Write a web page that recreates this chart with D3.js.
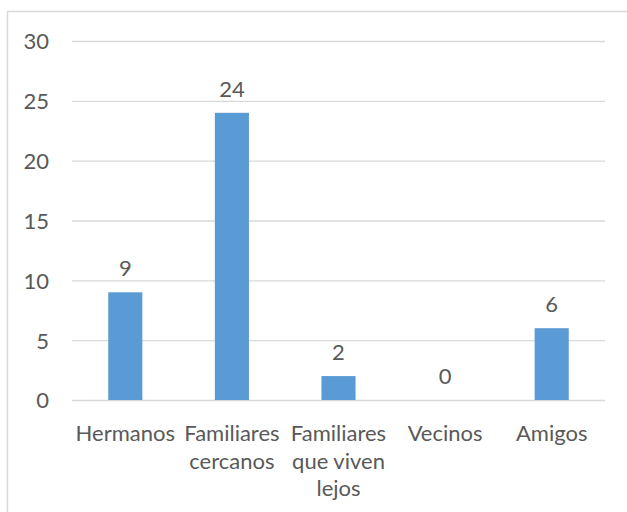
<!DOCTYPE html>
<html><head><meta charset="utf-8">
<script src="https://cdn.jsdelivr.net/npm/d3@7"></script>
<style>body{margin:0;background:#fff}svg{display:block}text{font-family:Lato,"Open Sans",sans-serif;fill:#595959}</style>
</head><body>
<script>
const categories = ["Hermanos", "Familiares\ncercanos", "Familiares\nque viven\nlejos", "Vecinos", "Amigos"];
const values = [9, 24, 2, 0, 6];
const yTicks = [0, 5, 10, 15, 20, 25, 30];

const W = 627, H = 512;
const svg = d3.select("body").append("svg").attr("width", W).attr("height", H);
svg.append("rect").attr("x", 7.5).attr("y", 11.5).attr("width", 640).attr("height", 520)
  .attr("fill", "#fff").attr("stroke", "#d9d9d9").attr("stroke-width", 1.5);

const pLeft = 72, pRight = 605, pTop = 41, pBottom = 400;
const x = d3.scaleBand().domain(d3.range(categories.length)).range([pLeft, pRight]).paddingInner(0.68).paddingOuter(0.34);
const y = d3.scaleLinear().domain([0, 30]).range([pBottom, pTop]);
const fs = 22;

const yAxis = d3.axisLeft(y).tickValues(yTicks).tickSize(-(pRight - pLeft)).tickPadding(23);
const g = svg.append("g").attr("transform", `translate(${pLeft},0)`).call(yAxis);
g.select(".domain").remove();
g.selectAll(".tick line").attr("stroke", "#d9d9d9").attr("stroke-width", 1.3);
g.selectAll(".tick text").attr("font-size", fs).attr("fill", "#595959").attr("font-family", "Lato").attr("dy", "0.36em");

svg.selectAll("rect.bar").data(values).join("rect").attr("class", "bar")
  .attr("x", (d, i) => x(i)).attr("width", x.bandwidth())
  .attr("y", d => y(d)).attr("height", d => y(0) - y(d)).attr("fill", "#5B9BD5");

svg.selectAll("text.val").data(values).join("text").attr("class", "val")
  .attr("x", (d, i) => x(i) + x.bandwidth() / 2).attr("y", d => y(d) - 16)
  .attr("text-anchor", "middle").attr("font-size", fs).text(d => d);

categories.forEach((c, i) => {
  const lines = c.split("\n");
  const t = svg.append("text").attr("text-anchor", "middle").attr("font-size", fs);
  lines.forEach((l, j) => {
    t.append("tspan").attr("x", x(i) + x.bandwidth() / 2).attr("y", 441 + j * 27.5).text(l);
  });
});
</script>
</body></html>
